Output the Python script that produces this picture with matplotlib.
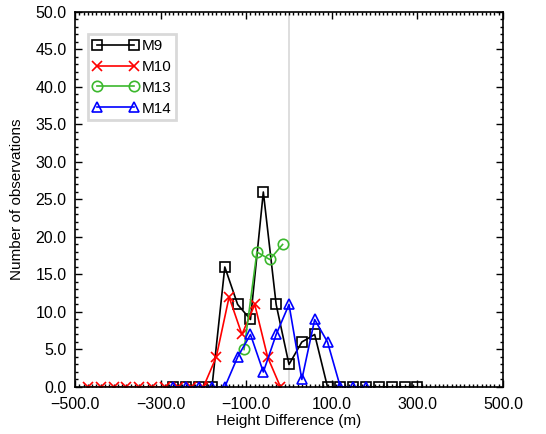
import matplotlib.pyplot as plt
from matplotlib.ticker import MultipleLocator, FuncFormatter

plt.rcParams['font.family'] = ['Liberation Sans', 'DejaVu Sans']

# height difference bins (m) and counts per series
x_m9 = [-270, -240, -210, -180, -150, -120, -90, -60, -30, 0, 30, 60, 90,
        120, 150, 180, 210, 240, 270, 300]
y_m9 = [0, 0, 0, 0, 16, 11, 9, 26, 11, 3, 6, 7, 0, 0, 0, 0, 0, 0, 0, 0]

x_m10 = [-470, -440, -410, -380, -350, -320, -290, -260, -230, -200,
         -170, -140, -110, -80, -50, -20]
y_m10 = [0, 0, 0, 0, 0, 0, 0, 0, 0, 0, 4, 12, 7, 11, 4, 0]

x_m13 = [-105, -75, -45, -15]
y_m13 = [5, 18, 17, 19]

x_m14 = [-270, -240, -210, -180, -150, -120, -90, -60, -30, 0, 30, 60, 90,
         120, 150, 180]
y_m14 = [0, 0, 0, 0, 0, 4, 7, 2, 7, 11, 1, 9, 6, 0, 0, 0]

x_ticks = [-500, -300, -100, 100, 300, 500]

fig = plt.figure(figsize=(5.46, 4.34), dpi=100)
ax = fig.add_axes([0.1374, 0.1083, 0.7838, 0.8641])

ax.axvline(0, color='#d8d8d8', lw=1.2, zorder=0)

mk = dict(markersize=7.5, markerfacecolor='none', markeredgewidth=1.2, lw=1.2)
ax.plot(x_m9, y_m9, color='black', marker='s', label='M9', **mk)
ax.plot(x_m10, y_m10, color='red', marker='x', label='M10', **mk)
ax.plot(x_m13, y_m13, color='#3cb82e', marker='o', label='M13', **mk)
ax.plot(x_m14, y_m14, color='blue', marker='^', label='M14', **mk)

ax.set_xlim(-500, 500)
ax.set_ylim(0, 50)
ax.set_xticks(x_ticks)
ax.xaxis.set_minor_locator(MultipleLocator(10))
ax.yaxis.set_major_locator(MultipleLocator(5))
ax.yaxis.set_minor_locator(MultipleLocator(1))
fmt = FuncFormatter(lambda v, p: f"{v:.1f}".replace('-', '\u2212'))
ax.xaxis.set_major_formatter(fmt)
ax.yaxis.set_major_formatter(fmt)
ax.tick_params(which='both', direction='in', top=True, right=True,
               labelsize=11.5, width=1)
ax.tick_params(which='major', length=5)
ax.tick_params(which='minor', length=2.5)
ax.tick_params(axis='x', pad=7)
ax.tick_params(axis='y', pad=6)
for s in ax.spines.values():
    s.set_linewidth(1.2)

ax.set_xlabel('Height Difference (m)', fontsize=11, labelpad=2)
ax.set_ylabel('Number of observations', fontsize=11, labelpad=8)

leg = ax.legend(loc='upper left', bbox_to_anchor=(0.03, 0.94), numpoints=2,
                fontsize=11, fancybox=False, handlelength=3.0,
                handletextpad=0.2, borderpad=0.3, labelspacing=0.45,
                borderaxespad=0)
leg.get_frame().set_edgecolor('#d0d0d0')
leg.get_frame().set_linewidth(2)

fig.savefig('out.png', dpi=100)
